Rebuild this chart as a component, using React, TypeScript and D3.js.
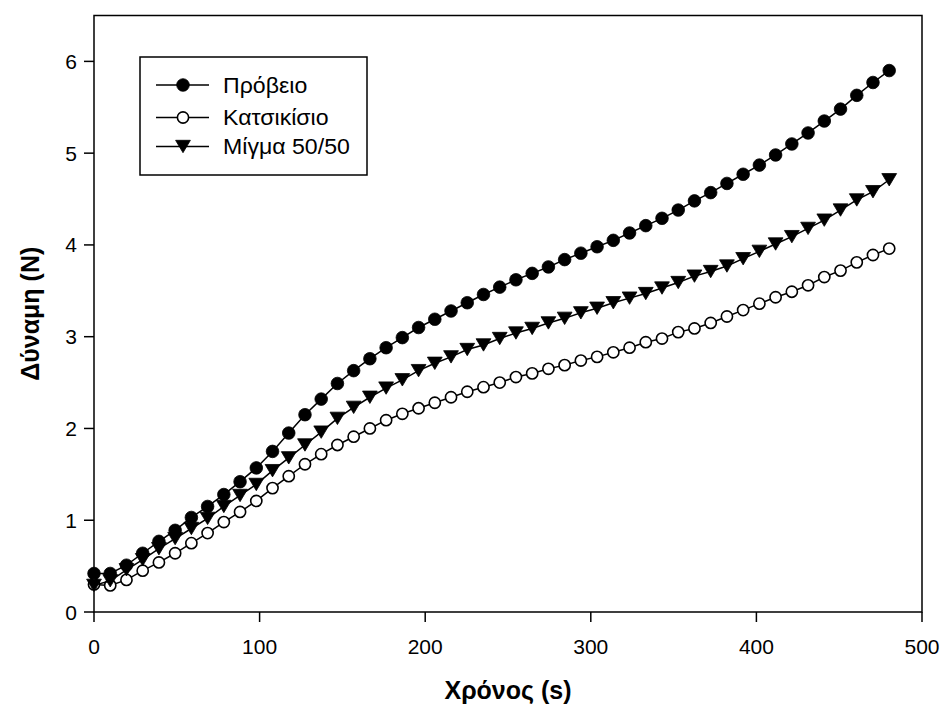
import React from "react";
import * as d3 from "d3";

// Sampling times (s)
const time = [
  0, 9.8, 19.6, 29.4, 39.2, 49, 58.8, 68.6, 78.4, 88.2,
  98, 107.8, 117.6, 127.4, 137.2, 147, 156.8, 166.6, 176.4, 186.2,
  196, 205.8, 215.6, 225.4, 235.2, 245, 254.8, 264.6, 274.4, 284.2,
  294, 303.8, 313.6, 323.4, 333.2, 343, 352.8, 362.6, 372.4, 382.2,
  392, 401.8, 411.6, 421.4, 431.2, 441, 450.8, 460.6, 470.4, 480.2,
];

// Force (N) for each sample
const sheep = [
  0.42, 0.42, 0.51, 0.64, 0.77, 0.89, 1.03, 1.15, 1.28, 1.42,
  1.57, 1.75, 1.95, 2.15, 2.32, 2.49, 2.63, 2.76, 2.88, 2.99,
  3.10, 3.19, 3.28, 3.37, 3.46, 3.54, 3.62, 3.69, 3.76, 3.84,
  3.91, 3.98, 4.05, 4.13, 4.21, 4.29, 4.38, 4.48, 4.57, 4.67,
  4.77, 4.87, 4.98, 5.10, 5.22, 5.35, 5.48, 5.63, 5.77, 5.90,
];

const goat = [
  0.30, 0.29, 0.35, 0.45, 0.54, 0.64, 0.75, 0.86, 0.98, 1.09,
  1.21, 1.35, 1.48, 1.61, 1.72, 1.82, 1.91, 2.00, 2.09, 2.16,
  2.22, 2.28, 2.34, 2.40, 2.45, 2.50, 2.56, 2.60, 2.65, 2.69,
  2.74, 2.78, 2.83, 2.88, 2.94, 2.98, 3.05, 3.09, 3.15, 3.22,
  3.29, 3.36, 3.43, 3.49, 3.56, 3.65, 3.72, 3.81, 3.89, 3.96,
];

const mix = [
  0.29, 0.34, 0.46, 0.57, 0.69, 0.80, 0.91, 1.02, 1.15, 1.27,
  1.39, 1.54, 1.68, 1.82, 1.96, 2.11, 2.23, 2.34, 2.44, 2.53,
  2.63, 2.71, 2.78, 2.86, 2.91, 2.98, 3.04, 3.09, 3.15, 3.20,
  3.26, 3.31, 3.37, 3.42, 3.47, 3.53, 3.59, 3.66, 3.71, 3.77,
  3.85, 3.93, 4.01, 4.09, 4.18, 4.27, 4.38, 4.49, 4.58, 4.71,
];

const seriesNames = ["Πρόβειο", "Κατσικίσιο", "Μίγμα 50/50"];
const xTicks = [0, 100, 200, 300, 400, 500];
const yTicks = [0, 1, 2, 3, 4, 5, 6];
const xTitle = "Χρόνος (s)";
const yTitle = "Δύναμη (N)";

const W = 943;
const H = 711;
const left = 94;
const right = 922;
const top = 15.5;
const bottom = 612;

const FONT = "'Liberation Sans', Arial, sans-serif";

type Kind = "filled" | "open" | "triangle";

function Marker({ kind, cx, cy }: { kind: Kind; cx: number; cy: number }) {
  if (kind === "triangle") {
    const w = 7.4;
    const h = 6.2;
    const path = `M${cx - w},${cy - h} L${cx + w},${cy - h} L${cx},${cy + h} Z`;
    return <path d={path} fill="#000" stroke="#000" strokeWidth={0.8} />;
  }
  return (
    <circle
      cx={cx}
      cy={cy}
      r={kind === "filled" ? 6.3 : 5.6}
      fill={kind === "filled" ? "#000" : "#fff"}
      stroke="#000"
      strokeWidth={kind === "filled" ? 0.8 : 1.6}
    />
  );
}

export default function App() {
  const x = d3.scaleLinear().domain([0, 500]).range([left, right]);
  const y = d3.scaleLinear().domain([0, 6.5]).range([bottom, top]);

  const series: { name: string; values: number[]; kind: Kind }[] = [
    { name: seriesNames[0], values: sheep, kind: "filled" },
    { name: seriesNames[1], values: goat, kind: "open" },
    { name: seriesNames[2], values: mix, kind: "triangle" },
  ];

  const line = d3
    .line<number>()
    .x((_, i) => x(time[i]))
    .y((v) => y(v));

  const legendX = 140;
  const legendY = 57;
  const legendRows = [85, 117.5, 146.5];

  return (
    <svg width={W} height={H} style={{ display: "block", position: "absolute", left: 0, top: 0, background: "#fff" }}>
      <rect x={0} y={0} width={W} height={H} fill="#fff" />

      {/* frame */}
      <path
        d={`M${left},${top} L${right},${top} L${right},${bottom} L${left},${bottom} Z`}
        fill="none"
        stroke="#000"
        strokeWidth={1.5}
      />

      {/* y axis ticks */}
      {yTicks.map((t) => (
        <g key={`y${t}`}>
          <line x1={left - 10} x2={left} y1={y(t)} y2={y(t)} stroke="#000" strokeWidth={1.5} />
          <text
            x={left - 17}
            y={y(t)}
            dy="0.36em"
            textAnchor="end"
            fontFamily={FONT}
            fontSize={21}
            fill="#000"
          >
            {t}
          </text>
        </g>
      ))}

      {/* x axis ticks */}
      {xTicks.map((t) => (
        <g key={`x${t}`}>
          <line x1={x(t)} x2={x(t)} y1={bottom} y2={bottom + 10} stroke="#000" strokeWidth={1.5} />
          <text
            x={x(t)}
            y={bottom + 42}
            textAnchor="middle"
            fontFamily={FONT}
            fontSize={21}
            fill="#000"
          >
            {t}
          </text>
        </g>
      ))}

      {/* axis titles */}
      <text
        x={(left + right) / 2}
        y={699}
        textAnchor="middle"
        fontFamily={FONT}
        fontSize={25}
        fontWeight="bold"
        fill="#000"
      >
        {xTitle}
      </text>
      <text
        transform={`translate(39,${(top + bottom) / 2}) rotate(-90)`}
        textAnchor="middle"
        fontFamily={FONT}
        fontSize={25}
        fontWeight="bold"
        fill="#000"
      >
        {yTitle}
      </text>

      {/* series */}
      {series.map((s) => (
        <g key={s.name}>
          <path d={line(s.values) || ""} fill="none" stroke="#000" strokeWidth={1.5} />
          {s.values.map((v, i) => (
            <Marker key={i} kind={s.kind} cx={x(time[i])} cy={y(v)} />
          ))}
        </g>
      ))}

      {/* legend */}
      <rect
        x={legendX}
        y={legendY}
        width={227}
        height={118}
        fill="#fff"
        stroke="#000"
        strokeWidth={1.5}
      />
      {series.map((s, i) => (
        <g key={`lg${s.name}`}>
          <line x1={156} x2={209} y1={legendRows[i]} y2={legendRows[i]} stroke="#000" strokeWidth={1.5} />
          <Marker kind={s.kind} cx={183} cy={legendRows[i]} />
          <text
            transform={`translate(223,${legendRows[i]}) scale(1.075,1)`}
            dy="0.36em"
            fontFamily={FONT}
            fontSize={21.5}
            fill="#000"
          >
            {s.name}
          </text>
        </g>
      ))}
    </svg>
  );
}
